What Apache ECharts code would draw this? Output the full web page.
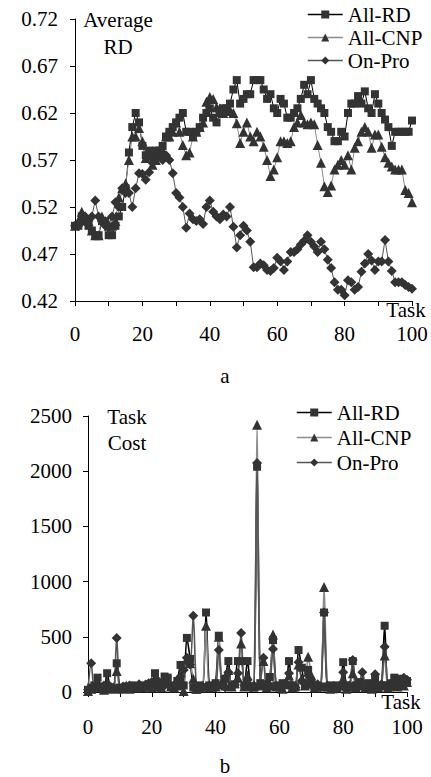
<!DOCTYPE html>
<html>
<head>
<meta charset="utf-8">
<script src="https://cdn.jsdelivr.net/npm/echarts@6/dist/echarts.min.js"></script>
<style>html,body{margin:0;padding:0;background:#fff;}#c{width:431px;height:777px;}</style>
</head>
<body>
<div id="c"></div>
<script>
// ---- Panel a: Average RD ----
var avgAllRD = [0.50,0.50,0.51,0.505,0.50,0.495,0.49,0.49,0.505,0.505,0.49,0.49,0.50,0.51,0.52,0.54,0.578,0.605,0.62,0.61,0.585,0.575,0.58,0.575,0.58,0.58,0.585,0.595,0.60,0.605,0.61,0.615,0.62,0.60,0.60,0.595,0.60,0.605,0.615,0.62,0.625,0.615,0.61,0.62,0.625,0.625,0.63,0.645,0.655,0.63,0.635,0.64,0.64,0.655,0.655,0.655,0.645,0.635,0.64,0.625,0.62,0.635,0.63,0.615,0.615,0.62,0.625,0.635,0.65,0.64,0.655,0.635,0.63,0.625,0.62,0.605,0.60,0.59,0.59,0.60,0.595,0.62,0.63,0.63,0.638,0.63,0.643,0.625,0.62,0.64,0.63,0.62,0.613,0.605,0.585,0.60,0.60,0.60,0.60,0.60,0.612];
var avgAllCNP = [0.50,0.505,0.515,0.51,0.505,0.495,0.49,0.49,0.51,0.505,0.50,0.50,0.505,0.53,0.54,0.545,0.57,0.595,0.595,0.604,0.59,0.572,0.575,0.565,0.57,0.575,0.58,0.595,0.595,0.60,0.61,0.60,0.586,0.575,0.578,0.595,0.60,0.605,0.61,0.632,0.637,0.635,0.626,0.625,0.62,0.622,0.623,0.62,0.609,0.588,0.60,0.61,0.595,0.59,0.60,0.595,0.584,0.57,0.553,0.56,0.573,0.59,0.59,0.588,0.59,0.605,0.61,0.618,0.61,0.608,0.61,0.608,0.586,0.567,0.542,0.536,0.543,0.56,0.565,0.57,0.565,0.575,0.56,0.583,0.59,0.60,0.605,0.60,0.583,0.597,0.597,0.584,0.573,0.567,0.563,0.56,0.56,0.56,0.538,0.535,0.525];
var avgOnPro = [0.50,0.50,0.505,0.51,0.505,0.51,0.527,0.51,0.505,0.50,0.50,0.51,0.525,0.52,0.54,0.535,0.535,0.52,0.54,0.556,0.555,0.549,0.557,0.567,0.573,0.575,0.57,0.575,0.57,0.556,0.535,0.53,0.52,0.498,0.513,0.507,0.505,0.507,0.502,0.52,0.527,0.515,0.51,0.507,0.512,0.51,0.52,0.499,0.477,0.49,0.50,0.495,0.483,0.456,0.456,0.46,0.458,0.453,0.452,0.455,0.466,0.462,0.453,0.462,0.472,0.472,0.475,0.48,0.484,0.49,0.483,0.478,0.472,0.483,0.475,0.464,0.455,0.44,0.432,0.432,0.426,0.442,0.44,0.432,0.435,0.451,0.46,0.47,0.463,0.453,0.462,0.462,0.485,0.462,0.452,0.44,0.44,0.44,0.437,0.435,0.433];
var avgTicks = [0.42,0.47,0.52,0.57,0.62,0.67,0.72];

// ---- Panel b: Task Cost ----
var costAllRD = [20,40,60,130,50,30,170,40,30,260,40,30,50,40,60,50,40,60,50,70,60,170,40,80,140,130,60,40,100,245,60,490,300,40,20,60,40,720,60,40,80,510,60,120,280,60,70,280,280,60,280,50,40,2040,80,60,70,136,470,60,40,80,60,280,60,40,380,220,60,200,80,60,40,50,720,40,60,30,60,50,270,60,40,280,60,90,60,40,80,60,120,50,60,600,60,80,130,100,120,90,100];
var costAllCNP = [10,30,50,60,40,20,90,30,40,190,30,40,60,30,50,40,60,40,70,50,40,100,60,40,110,90,50,40,60,120,10,300,260,120,30,40,60,600,40,60,50,500,90,60,200,50,80,130,440,50,150,60,50,2420,60,280,40,60,520,50,60,30,80,150,40,60,250,120,60,320,150,40,60,50,950,60,30,50,40,60,120,30,50,170,40,60,100,40,60,30,80,40,60,330,40,60,70,50,80,60,90];
var costOnPro = [20,260,30,50,40,60,30,50,40,490,30,50,40,60,50,40,70,50,60,80,90,60,100,70,60,80,40,60,70,140,200,310,250,690,40,30,50,40,60,50,40,380,60,40,180,50,70,170,535,60,110,40,60,2075,70,310,40,60,390,50,40,60,80,170,60,40,270,100,80,150,60,40,70,50,720,60,40,50,30,60,180,40,60,290,50,70,180,60,40,60,160,50,70,410,60,40,80,90,110,130,110];
var costTicks = [0,500,1000,1500,2000,2500];
var taskTicks = [0,20,40,60,80,100];
var seriesNames = ['All-RD','All-CNP','On-Pro'];

function pairs(arr){ return arr.map(function(v,i){ return [i, v]; }); }

var FONT = '"Liberation Serif","Times New Roman",serif';
var FS = 21;
var markFill = '#333333';
var lineCols = ['#000000','#8c8c8c','#555555'];
var symbols = ['rect','triangle','diamond'];
var symSizes = [8,10,10];

function xAxisCfg(gi, margin){
  return {
    type:'value', gridIndex:gi, min:0, max:100, interval:10,
    axisLine:{show:true,lineStyle:{color:'#000',width:1}},
    axisTick:{show:true,inside:false,length:5,lineStyle:{color:'#000'}},
    splitLine:{show:false},
    axisLabel:{margin:margin,color:'#000',fontFamily:FONT,fontSize:FS,
      formatter:function(v){ return taskTicks.indexOf(Math.round(v))>=0 ? String(Math.round(v)) : ''; }}
  };
}

var series = [];
var avgData = [avgAllRD, avgAllCNP, avgOnPro];
var costData = [costAllRD, costAllCNP, costOnPro];
for (var k=0;k<3;k++){
  series.push({
    name:seriesNames[k], type:'line', xAxisIndex:0, yAxisIndex:0,
    data:pairs(avgData[k]), symbol:symbols[k], symbolSize:symSizes[k], showSymbol:true,
    itemStyle:{color:markFill, borderWidth:0},
    lineStyle:{color:lineCols[k], width:1},
    animation:false
  });
}
for (var k=0;k<3;k++){
  series.push({
    name:seriesNames[k], type:'line', xAxisIndex:1, yAxisIndex:1,
    data:pairs(costData[k]), symbol:symbols[k], symbolSize:symSizes[k], showSymbol:true,
    smooth:0.3,
    itemStyle:{color:markFill, borderWidth:0},
    lineStyle:{color:lineCols[k], width:1.6},
    animation:false
  });
}

function legendCfg(top,left,gap){
  return {
    orient:'vertical', top:top, left:left, itemWidth:35, itemHeight:10, itemGap:gap,
    data:seriesNames.map(function(n,i){ return {name:n, itemStyle:{color:markFill}, lineStyle:{color:lineCols[i], width:1.5}}; }),
    textStyle:{fontFamily:FONT,fontSize:FS,color:'#000',lineHeight:21,padding:[0,0,0,0]},
    padding:0, selectedMode:false
  };
}

function txt(t,x,y){
  return {type:'text', x:x, y:y, style:{text:t, font:FS+'px '+FONT, fill:'#000', align:'center', verticalAlign:'middle', textAlign:'center', textVerticalAlign:'middle'}};
}

var option = {
  backgroundColor:'#fff',
  animation:false,
  grid:[
    {left:75, top:19, width:337, height:282, containLabel:false},
    {left:88, top:416, width:319, height:276, containLabel:false}
  ],
  xAxis:[xAxisCfg(0,22), xAxisCfg(1,24)],
  yAxis:[
    {type:'value', gridIndex:0, min:0.42, max:0.72, interval:0.05,
      axisLine:{show:true,lineStyle:{color:'#000'}},
      axisTick:{show:true,length:5,lineStyle:{color:'#000'}},
      splitLine:{show:false},
      axisLabel:{margin:17,color:'#000',fontFamily:FONT,fontSize:FS,formatter:function(v){return v.toFixed(2);}}},
    {type:'value', gridIndex:1, min:0, max:2500, interval:500,
      axisLine:{show:true,lineStyle:{color:'#000'}},
      axisTick:{show:true,length:5,lineStyle:{color:'#000'}},
      splitLine:{show:false},
      axisLabel:{margin:16,color:'#000',fontFamily:FONT,fontSize:FS,formatter:function(v){return String(v);}}}
  ],
  legend:[legendCfg(4,307,2), legendCfg(402,296,4)],
  graphic:[
    txt('Average',118,20), txt('RD',118,47),
    txt('Task',406,310), txt('a',225,376),
    txt('Task',127,417), txt('Cost',127,443),
    txt('Task',401,702), txt('b',225,766)
  ],
  series:series
};

var chart = echarts.init(document.getElementById('c'), null, {renderer:'svg', width:431, height:777});
chart.setOption(option);
</script>
</body>
</html>
